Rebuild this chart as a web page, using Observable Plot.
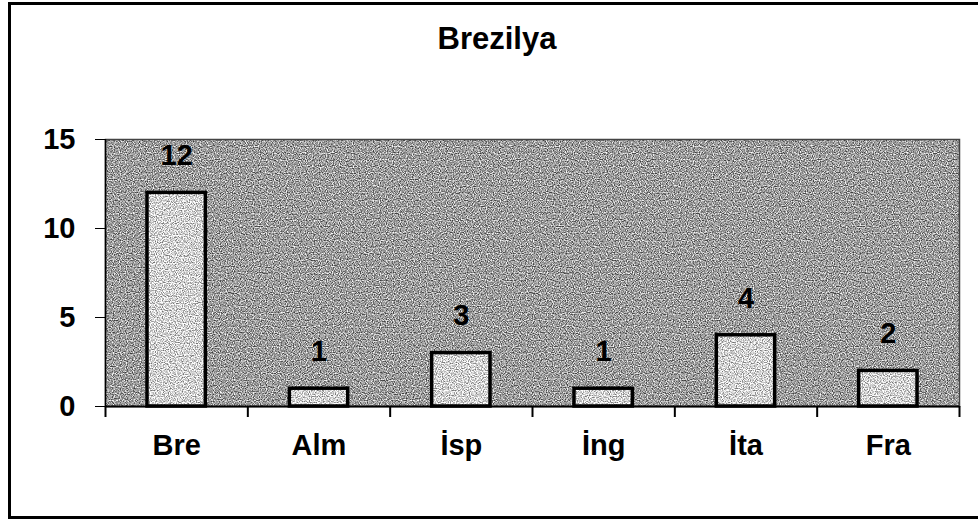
<!DOCTYPE html>
<html>
<head>
<meta charset="utf-8">
<script src="https://cdn.jsdelivr.net/npm/d3@7"></script>
<script src="https://cdn.jsdelivr.net/npm/@observablehq/plot@0.6"></script>
<style>
  html, body { margin: 0; padding: 0; background: #fff; }
  body { width: 978px; height: 520px; overflow: hidden; position: relative; font-family: "Liberation Sans", Arial, sans-serif; }
  #border { position: absolute; left: 8px; top: 2px; width: 990px; height: 517px; box-sizing: border-box; border: 3px solid #000; }
  #title { position: absolute; left: 0; width: 994px; top: 21px; text-align: center; font-size: 31px; font-weight: bold; color: #000; }
  #chart { position: absolute; left: 0; top: 0; }
</style>
</head>
<body>
<div id="border"></div>
<div id="title">Brezilya</div>
<div id="chart"></div>
<script>
const categories = ["Bre", "Alm", "İsp", "İng", "İta", "Fra"];
const values = [12, 1, 3, 1, 4, 2];
const yTicks = [0, 5, 10, 15];

const data = categories.map((c, i) => ({cat: c, idx: i, value: values[i]}));
const halfBar = 0.205;

const plot = Plot.plot({
  width: 978,
  height: 520,
  marginLeft: 105,
  marginRight: 19,
  marginTop: 139,
  marginBottom: 114,
  style: {fontFamily: "'Liberation Sans', Arial, sans-serif", fontWeight: "bold", fontSize: "29px", color: "#000", background: "transparent"},
  x: {type: "linear", domain: [0, categories.length]},
  y: {domain: [0, 15]},
  marks: [
    Plot.frame({fill: "#9c9c9c", className: "grainy"}),
    Plot.frame({stroke: "#444", strokeWidth: 1.5}),
    Plot.rectY(data, {x1: d => d.idx + 0.5 - halfBar, x2: d => d.idx + 0.5 + halfBar, y: "value", fill: "#d2d2d2", className: "grainy"}),
    Plot.rectY(data, {x1: d => d.idx + 0.5 - halfBar, x2: d => d.idx + 0.5 + halfBar, y: "value", fill: "none", stroke: "#000", strokeWidth: 3.5}),
    Plot.ruleY([0], {stroke: "#000", strokeWidth: 2}),
    Plot.ruleX([0], {stroke: "#000", strokeWidth: 1.5}),
    Plot.axisY({ticks: yTicks, tickSize: 10, tickPadding: 20, label: null, fontSize: 29, fontWeight: "bold", stroke: "#000"}),
    Plot.axisX({ticks: d3.range(categories.length + 1), tickSize: 11, tickFormat: () => "", label: null, stroke: "#000", strokeWidth: 2}),
    Plot.text(data, {x: d => d.idx + 0.5, frameAnchor: "bottom", dy: 48, text: "cat", fontSize: 29, fontWeight: "bold", fill: "#000"}),
    Plot.text(data, {x: d => d.idx + 0.5, y: "value", dy: -37, text: d => String(d.value), fontSize: 29, fontWeight: "bold", fill: "#000"})
  ]
});

// pixel grain texture like the scanned original
const ns = "http://www.w3.org/2000/svg";
const defs = document.createElementNS(ns, "defs");
defs.innerHTML = `
<filter id="grain" x="0" y="0" width="100%" height="100%" color-interpolation-filters="sRGB">
  <feTurbulence type="fractalNoise" baseFrequency="0.85" numOctaves="1" seed="7" result="n"/>
  <feColorMatrix in="n" type="matrix" values="2.2 0 0 0 -0.6  2.2 0 0 0 -0.6  2.2 0 0 0 -0.6  0 0 0 0 1" result="g"/>
  <feComposite in="SourceGraphic" in2="g" operator="arithmetic" k1="0" k2="1" k3="0.75" k4="-0.375" result="mix"/>
  <feComposite in="mix" in2="SourceGraphic" operator="in"/>
</filter>`;
plot.insertBefore(defs, plot.firstChild);
plot.querySelectorAll(".grainy").forEach(g => g.setAttribute("filter", "url(#grain)"));

document.getElementById("chart").appendChild(plot);
</script>
</body>
</html>
